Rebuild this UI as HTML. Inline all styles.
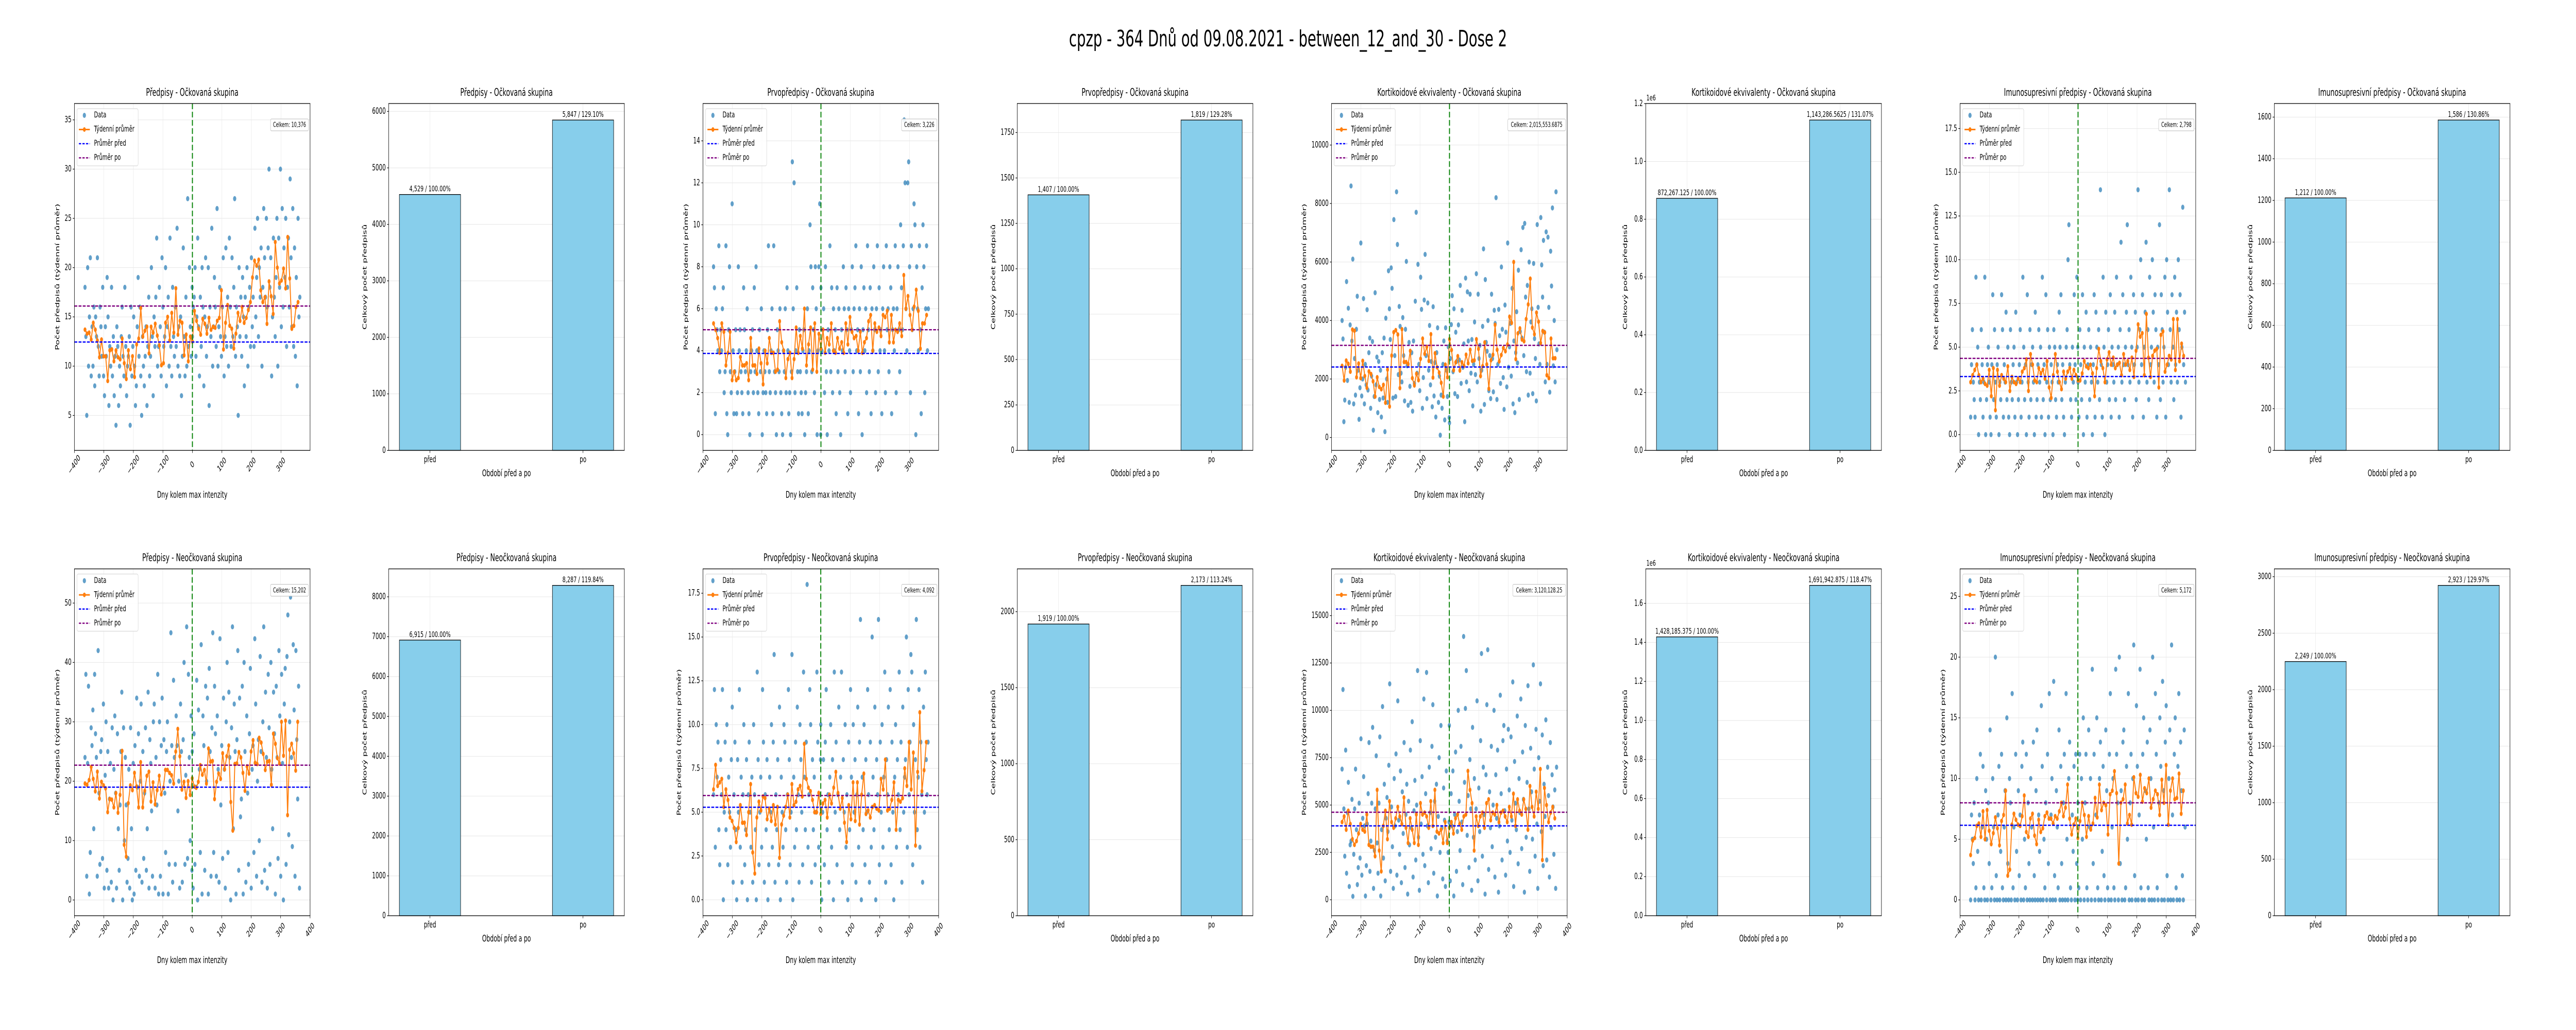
<!DOCTYPE html>
<html><head><meta charset="utf-8">
<style>
html,body{margin:0;padding:0;background:#fff;width:100%;height:100%;overflow:hidden;}
svg{display:block;width:100vw;height:100vh;font-family:"DejaVu Sans","Liberation Sans",sans-serif;}
</style></head>
<body>
<svg id="fig" viewBox="0 0 8000 2000" preserveAspectRatio="none" xmlns="http://www.w3.org/2000/svg">
<rect width="8000" height="2000" fill="#fff"/>
<text x="4000" y="90" font-size="44" text-anchor="middle" fill="#000">cpzp - 364 Dnů od 09.08.2021 - between_12_and_30 - Dose 2</text>
</svg>
<script>
// ---------- DATA ----------
const scatterTitles = ["Předpisy - Očkovaná skupina","Prvopředpisy - Očkovaná skupina","Kortikoidové ekvivalenty - Očkovaná skupina","Imunosupresivní předpisy - Očkovaná skupina","Předpisy - Neočkovaná skupina","Prvopředpisy - Neočkovaná skupina","Kortikoidové ekvivalenty - Neočkovaná skupina","Imunosupresivní předpisy - Neočkovaná skupina"];
const barTitles = scatterTitles;
const totals = ["Celkem: 10,376","Celkem: 3,226","Celkem: 2,015,553.6875","Celkem: 2,798","Celkem: 15,202","Celkem: 4,092","Celkem: 3,120,128.25","Celkem: 5,172"];
const meanBefore = [12.45, 3.87, 2410, 3.32, 19.0, 5.28, 3900, 6.15];
const meanAfter = [16.1, 5.0, 3150, 4.36, 22.7, 5.95, 4620, 8.0];
const barCategories = ["před","po"];
const barBefore = [4529, 1407, 872267.125, 1212, 6915, 1919, 1428185.375, 2249];
const barAfter = [5847, 1819, 1143286.5625, 1586, 8287, 2173, 1691942.875, 2923];
const barLabelBefore = ["4,529 / 100.00%","1,407 / 100.00%","872,267.125 / 100.00%","1,212 / 100.00%","6,915 / 100.00%","1,919 / 100.00%","1,428,185.375 / 100.00%","2,249 / 100.00%"];
const barLabelAfter = ["5,847 / 129.10%","1,819 / 129.28%","1,143,286.5625 / 131.07%","1,586 / 130.86%","8,287 / 119.84%","2,173 / 113.24%","1,691,942.875 / 118.47%","2,923 / 129.97%"];
const scatterYTicks = [[5,10,15,20,25,30,35],[0,2,4,6,8,10,12,14],[0,2000,4000,6000,8000,10000],[0,2.5,5,7.5,10,12.5,15,17.5],[0,10,20,30,40,50],[0,2.5,5,7.5,10,12.5,15,17.5],[0,2500,5000,7500,10000,12500,15000],[0,5,10,15,20,25]];
const barYTicks = [[0,1000,2000,3000,4000,5000,6000],[0,250,500,750,1000,1250,1500,1750],[0,200000,400000,600000,800000,1000000,1200000],[0,200,400,600,800,1000,1200,1400,1600],[0,1000,2000,3000,4000,5000,6000,7000,8000],[0,500,1000,1500,2000],[0,200000,400000,600000,800000,1000000,1200000,1400000,1600000],[0,500,1000,1500,2000,2500,3000]];
const xTicksA = [-400,-300,-200,-100,0,100,200,300];
const xTicksB = [-400,-300,-200,-100,0,100,200,300,400];

const d0b=[18,13,5,20,10,15,21,9,14,10,16,8,15,13,21,12,9,16,14,11,18,9,7,14,11,19,15,6,12,10,18,9,13,7,11,4,14,12,6,10,8,13,16,11,9,18,12,7,10,11,13,4,16,9,12,15,10,6,8,14,19,11,16,9,5,13,10,8,11,14,6,12,17,9,11,20,13,7,15,12,17,23,10,12,18,14,9,21,16,12,13,20,8,14,17,10,23,12,9,18,13,11,16,12,24,10,14,9,15,7,11,22,13,9,17,10,27,12,20,14,11,18];
const d0a=[13,16,17,20,11,15,23,14,9,17,12,20,16,8,15,21,11,14,20,6,16,13,24,10,14,19,16,12,26,10,14,18,13,11,16,21,9,13,22,12,17,10,23,16,12,21,13,18,27,11,16,14,5,20,13,17,11,19,15,8,17,13,20,10,16,18,12,21,14,17,12,24,15,19,25,13,20,17,22,10,18,26,21,17,25,16,22,30,18,21,9,15,23,17,13,19,25,10,23,18,30,14,26,16,22,19,25,12,18,23,16,29,21,14,26,12,22,11,19,8,25,15,17];
const d1b=[8,7,1,6,5,4,9,3,5,4,6,7,2,3,9,1,0,5,8,3,2,11,4,1,3,5,1,2,8,4,5,3,2,1,7,5,3,4,6,2,1,0,3,4,5,2,7,3,8,4,2,1,5,3,6,0,2,4,3,2,1,5,9,3,2,4,6,1,9,3,2,0,5,4,3,6,2,1,0,4,3,6,2,7,4,1,2,0,3,13,6,12,2,4,7,3,1,5,3,2,1,4,5,0,2,3,6,1,4,10,8,3,7,5,2,8,6,0,4,8,11,0];
const d1a=[7,4,5,6,2,8,3,0,5,4,9,3,7,2,6,4,5,1,7,3,6,2,0,5,4,8,6,3,7,5,1,6,4,2,5,8,3,6,7,9,4,5,1,6,3,8,0,5,7,4,6,2,9,5,3,7,1,6,4,8,5,2,6,9,3,7,4,5,1,6,8,4,2,9,5,6,3,8,7,1,5,6,4,9,2,6,8,5,3,10,7,5,9,15,12,6,4,12,13,8,2,9,5,6,11,10,0,8,6,4,9,5,1,7,10,8,2,6,9,4,6];
const d2b=[4000,3370,540,1280,2400,5330,1950,4420,1200,3850,8600,3300,6100,1150,2700,1450,3700,4830,2300,620,1700,6650,1420,2000,4750,1150,2500,1800,4370,1620,2900,3400,1000,2100,3280,250,1400,4950,1800,2750,850,2600,1300,2300,700,2900,1350,3400,200,4080,2000,1200,5700,4400,3350,5800,5100,1350,7450,2800,1400,8400,6600,2150,4480,3800,2200,1900,4100,2800,1250,3700,6020,2450,1100,3250,1750,1200,2900,900,3300,1850,4660,7700,2200,5920,2500,1600,5480,4380,1000,2050,4700,6260,2800,1330,4600,2300,3830,1800,2600,1050,4470,1420,2560,700,2900,3750,1200,2100,80,1450,1000,2500,3300,600,3750,2300,1400,3100,680];
const d2a=[500,2700,3860,4850,2250,4400,1500,3600,2600,1400,3850,2650,5200,1850,4350,2400,3200,540,5450,1900,4980,3300,1600,4900,2200,3350,1080,2500,3950,2150,5600,1900,4900,2700,3150,900,2300,3800,6450,1130,5400,3250,2950,4000,1600,2800,1330,4900,2700,1560,4350,3900,8200,1300,2500,4380,3480,1850,5830,3700,2050,960,4530,3600,1730,6650,2400,3100,3900,2100,5100,1150,3300,850,2900,4300,2550,5720,1300,3620,6420,3400,7180,2800,7320,4800,2250,5200,1450,6000,2200,3950,4400,1500,5950,3380,2700,1250,7280,4450,3200,2500,7520,5900,4800,6740,3600,1900,7030,2500,6850,4450,1550,6370,5180,7850,2450,4000,1900,8400,3000];
const d3b=[1,4,6,3,2,1,9,4,5,0,3,2,6,4,1,3,9,0,2,4,5,3,1,0,4,8,2,6,3,1,4,5,0,3,2,8,6,1,4,3,7,2,5,1,0,6,3,2,4,5,1,7,3,0,2,4,6,1,3,9,5,2,4,0,8,3,1,6,2,4,5,3,0,7,1,2,4,6,3,5,1,9,2,4,0,8,3,6,1,5,2,4,3,0,6,5,2,1,4,3,7,5,8,2,4,1,0,3,5,6,10,12,4,2,1,5,3,8,4,2,9,5];
const d3a=[3,1,6,4,2,8,0,5,3,7,1,4,6,2,5,3,0,4,8,1,7,5,3,6,2,14,4,1,9,5,0,7,3,4,6,2,8,1,5,4,3,7,2,9,4,5,1,6,11,3,8,4,2,5,7,12,4,6,3,9,5,1,8,4,7,2,5,14,3,6,10,4,8,1,5,7,11,3,6,2,9,4,5,10,7,3,8,6,1,5,4,12,2,8,6,3,5,9,1,10,7,4,14,6,3,8,5,2,9,4,7,3,10,6,8,1,5,13,4,7,3];
const d4b=[24,38,4,23,36,1,8,29,26,32,12,38,28,24,4,42,18,6,25,27,7,33,2,21,30,5,25,2,17,23,3,29,0,22,31,18,2,28,12,5,16,25,35,0,29,10,24,16,3,7,22,2,29,12,0,23,1,26,5,34,19,28,4,20,33,3,25,7,18,29,5,12,35,2,27,23,15,4,30,33,2,24,16,38,1,30,4,26,34,1,27,18,8,25,30,1,6,20,45,26,3,37,24,6,31,26,15,20,2,33,25,3,27,40,6,21,46,7,38,24,10,31,5];
const d4a=[25,2,28,6,19,37,0,32,22,8,43,1,31,26,5,36,20,34,1,39,25,4,29,45,8,36,28,4,31,22,3,44,16,26,7,34,22,2,30,40,8,35,24,0,29,46,12,33,25,1,27,42,5,34,14,17,36,1,40,25,3,31,18,6,28,39,2,22,26,8,44,33,4,20,27,10,41,25,3,30,46,5,35,24,2,38,29,6,40,22,12,35,28,1,36,24,7,42,31,4,38,23,0,33,39,6,41,48,11,30,51,24,9,43,32,4,42,27,17,36,2];
const d5b=[6,12,3,10,7,9,4,2,8,6,12,0,5,9,4,10,2,7,5,3,8,11,1,6,9,4,0,8,5,12,3,7,1,6,10,2,4,8,0,6,9,5,3,7,1,10,6,4,0,13,8,2,5,7,3,12,9,1,6,4,8,0,2,7,5,10,3,9,14,1,6,4,8,2,11,0,7,5,3,10,9,4,1,6,12,8,2,5,14,0,7,3,9,4,11,6,1,10,8,5,2,13,7,4,9,18,3,6,12,10,1,8,4,7,2,5,13,9,3,6,8];
const d5a=[10,0,5,8,2,9,12,4,6,1,7,10,3,8,0,13,5,9,2,6,11,4,7,13,1,8,5,10,3,6,0,9,4,12,7,2,10,5,8,1,6,11,3,9,16,0,7,4,10,2,8,5,12,6,1,9,3,15,7,4,11,0,8,6,16,2,9,5,10,3,7,13,1,8,6,11,4,12,2,9,5,0,7,10,3,8,6,13,4,9,1,11,5,7,8,15,3,12,6,9,14,13,2,10,5,8,16,4,7,12,3,9,6,1,11,5,13,8,6,9];
const d6b=[6900,11100,4800,2300,7900,1400,4600,6200,700,2900,3100,5300,180,2400,4800,6900,3700,800,1700,5100,2200,8500,1300,4300,6500,3900,200,1800,4000,5600,8300,1500,3100,5100,9100,600,2600,4800,7600,3000,1400,5100,8600,200,3700,10200,2200,6100,1000,4300,5400,3600,7100,11400,1500,4900,2800,600,6400,3900,7700,1300,10500,4200,2400,6800,900,5700,3500,8300,1700,4500,6100,300,5200,2900,7900,3800,9400,1200,4700,6300,2100,5000,12100,3300,500,8400,4000,6500,2400,10600,1800,5600,12000,3900,900,7000,4600,2700,8100,10300,1400,5200,3300,6100,200,4400,7500,2500,9200,3800,1100,5900,4200,700,6800,3100,2500,4100];
const d6a=[9200,1000,5600,3900,6800,200,4500,7800,1500,3600,10000,5200,2600,8100,4100,800,13900,6200,10100,12100,3400,5500,1700,7400,4800,500,9100,3300,6400,2100,4800,10500,1000,5900,3600,8400,13000,2300,7000,4500,300,6600,10300,13200,1600,5700,3800,8100,2800,5000,10000,1200,6600,4300,7900,400,3900,10800,5600,2100,8400,9200,4700,1300,6900,3100,9000,5800,2500,8600,4200,11500,700,7300,5100,3700,9700,1900,6400,4600,10600,2700,7800,5300,400,9200,3300,6200,11300,4800,1500,8000,5700,3200,12400,6900,2300,9000,4000,600,7500,5200,11400,3600,8700,1800,6100,4400,9500,2100,7000,5500,1200,8300,3800,6600,4900,2400,5800,600,7000];
const d7b=[0,7,5,3,8,0,1,10,4,0,7,12,0,6,11,1,0,9,5,0,8,3,14,0,1,10,6,0,20,2,0,7,11,0,4,12,1,0,6,9,0,15,3,0,10,8,0,17,1,6,0,12,4,0,9,2,7,0,11,13,0,5,1,12,0,8,3,0,10,6,0,13,2,0,9,14,0,7,4,0,16,11,0,5,1,8,0,12,3,17,0,7,10,0,18,2,0,9,6,1,14,0,11,3,0,8,12,0,17,5,0,10,13,1,0,7,4,11,0,12,3,0];
const d7a=[8,1,12,0,10,5,15,0,8,12,1,0,14,6,10,0,19,3,12,0,7,15,1,0,10,13,0,4,11,2,0,14,9,1,0,12,17,0,6,10,1,0,19,12,8,0,20,3,9,0,13,14,0,1,11,5,17,0,8,12,0,10,21,2,0,16,11,0,7,19,1,0,12,15,0,9,5,13,1,0,14,10,0,20,6,0,17,12,1,0,8,15,11,0,18,9,0,13,16,2,0,10,14,0,21,7,0,12,15,1,0,11,17,0,13,9,2,0,14,6];

const w0b=[13.7,13.3,13.4,12.7,14.4,13.7,12.6,10.9,12.7,11,11,8.5,11.6,11.7,10.5,11.6,10.9,10.7,12.8,10.3,8.7,11.6,9.7,11,8.9,12.2,12.8,15.9,13,13.6,14,11.3,14,13.4,14.3,13.1,12.1,10.1,10.3,14.4,15,12.6,15.4,13.4,17.9,13.2,14.6,14.4,11.1,13.2,10.5,13];
const w0a=[12.5,15.6,14.6,13.8,13.2,14.8,14.3,13.3,14.9,13.7,14,13.9,14.6,14.9,17.7,11.7,14.4,16.2,14.1,13.8,11.8,13.3,15.4,14.6,16,14.4,14.9,15.7,16.5,19,20.7,20.2,20.8,17.7,16.5,17,14.3,18.6,17.1,15.3,22.6,20,18.4,18.7,19.9,17.9,23.1,18.9,13.8,14.1,16,16.5];
const w1b=[5.3,5,4.6,3.9,5.3,4.9,3.3,3.9,4.9,2.6,3,2.6,2.7,3.7,3.3,3.3,3.4,2.6,4.6,3.3,3.3,2.9,4.1,3.4,2.4,4,3.4,4.6,3.9,3.9,3,3.1,5.4,4.4,4,2.7,3.6,3.9,2.7,3.6,5.1,3.9,4.7,4.1,6,3.3,4.3,5.1,3.1,5.3,3,4.8];
const w1a=[4.1,5,3.9,4.6,4.3,5.3,4,3.9,4.6,4.1,4.4,3.9,5.3,4.3,5.6,4.9,4.6,4.7,4,4.9,3.9,4.4,4.6,5.4,5.7,4,5.3,4.9,5.1,4.7,5.7,5.6,5.9,4.4,5.7,4.4,5,4.9,5.3,4.7,7.6,6,6.6,5.7,5,6.1,6.9,5.9,4.1,5.3,5.3,5.7];
const w2b=[2450,1950,2630,2520,2250,3690,3650,2060,2530,2030,2620,2100,1700,2260,2170,1920,1400,2060,1730,1650,1800,1190,2320,1060,2800,3600,3670,3520,1690,3700,2580,2580,2510,2960,2030,1780,2180,1960,2690,3380,2860,3100,2620,3530,2050,2880,2400,2220,1870,1400,2490,2060];
const w2a=[3360,2990,2300,2570,2780,2290,2570,2450,2830,2540,3000,2620,2640,3360,3030,2100,2440,3250,2500,1670,2640,2830,3850,3000,2600,2820,3060,2950,3180,4130,3920,6000,2680,3560,3730,3350,3290,4050,4550,5430,3760,3530,4270,3960,3230,3640,3590,2130,2030,3380,2710,2710];
const w3b=[3,3.4,3.7,4,3.4,3,3.2,2.9,2.8,3.7,2.2,3.8,1.4,3.7,2.8,3.4,3.2,3,3.9,2.5,3.3,3,2.9,3.2,3,3.6,3.8,4.3,2.5,4.6,4,3.1,3,3.8,3.5,3.7,3.2,4.2,2.7,2.1,3.4,4.6,3.6,3,2.6,3.6,3.2,3.6,3.8,3.2,3.7,3.4];
const w3a=[3.1,3.1,3.5,4.2,3.9,3.8,4,3.5,2.2,3.8,4.9,4.2,3.8,3,4.3,4.7,4,4.4,3.8,4,4.1,3.4,4.6,4,4.2,3.7,4.4,3.3,4.8,6.3,5.6,5.8,3.4,6.9,4.4,3.3,4.5,4.8,4.9,2.7,5.7,5.9,3.6,4,4.5,4.3,6.6,3.7,6.6,4.2,5.2,4.5];
const w4b=[19.6,19.4,20.2,22.4,20.4,18.3,21.6,17.1,19.9,19.3,18.8,14.8,17,16.9,15.6,18,14.7,17.7,25.1,9.3,7.3,16.3,19.3,18.5,21.4,19.1,15.6,23.2,15.6,18.4,20.9,21.6,16.6,19.8,16.1,18.5,20.9,17.8,18.9,21.9,21.9,21.4,21,19.6,25,28.8,24.2,18.6,19.9,17.2,20,17.7];
const w4a=[20.5,19.1,18.9,19.9,22.7,21.1,21.9,19.6,25.5,23.3,23.4,17,19.9,21.3,20.4,24.7,22,24.2,26,16.5,11.7,22.9,23,24.9,24,21.4,18.4,22.5,21.3,25,26.9,23.1,22.9,27.3,26.5,24.6,21.9,23.3,23.4,19.4,28,26.3,23.9,23,30,24.3,30.2,14.3,25.3,26.3,24.7,21.8,30];
const w5b=[6.3,7.7,6.5,6.7,6.9,5.3,6.3,5.7,4.7,4.5,4.1,3.3,4.1,5.4,4.4,4.4,3.7,5,6.6,2.7,1.5,4.7,5.6,5.1,5.9,5.8,4.6,5.2,4.5,5.4,4.3,5.3,2.4,4.3,4.8,5.3,6,4.7,6.6,5.4,5.6,6.3,6.5,5.9,8.9,6.9,6.4,6.2,5.7,5,5,6.1];
const w5a=[4.9,5.5,5.7,4.7,6,5.5,6.4,7.3,6.1,5.2,5.8,4.4,3.3,5.4,4.6,6.7,4.5,6.7,4.3,6,7.2,4.9,5.1,4.7,5.3,5.4,5.2,5.1,6.9,6.3,8,5.1,5.2,5.7,6.7,4,5.7,5.6,5.8,7.5,6.5,9,6.3,8.4,3.1,7.3,10.7,6.2,7.4,9];
const w6b=[4100,4400,3700,4700,4000,3200,2900,3100,3500,4000,3700,3600,4500,2900,2800,2800,2300,5800,2600,1500,3900,4700,3200,5200,4100,3800,4300,4900,4400,4000,5400,3800,3000,4300,3700,3000,4500,2900,5100,4500,4600,4400,3800,5200,3900,5800,3600,3500,3700,3000,4100,3000];
const w6a=[3800,4100,3500,4300,4500,4000,3700,4400,4500,6800,5800,5100,2600,4400,3900,4400,4600,3800,5100,5300,4200,4600,4500,5000,4100,4600,4700,4400,4100,4900,4400,5600,3900,5300,4700,4500,5300,4800,3700,6000,4900,4400,5700,4800,6900,2100,5900,5000,4100,4600,4900,4300];
const w7b=[3.7,4.9,5.1,6.1,6.3,5.2,7.3,5,7.4,5.7,4.6,5.5,6.8,5.9,4.5,6.5,7,9,2,2.5,6.2,7.1,6.6,6.2,6.1,6.9,8.6,5.6,5.2,6.7,7.1,5.3,4.6,6.6,5.6,5.9,6.9,7.2,6.7,6.7,6.3,6.9,6.7,7.3,8,6.9,7.6,9.5,6.7,5.4,6.2,6.7];
const w7a=[5.1,6.5,8,7,5.2,6.9,5.8,6.3,8.4,6.8,9.5,7.4,8,7.8,5.4,8.7,9,10.6,8.8,3,8,8.3,9.5,6.3,7,6.2,10.1,8.8,8.5,10.3,8.1,9.2,8.8,10,7.6,8.3,9,8.7,7,9.9,8,11.1,6.2,9,10,8.3,8.4,10.4,7.1,9];

const dailyBefore=[d0b,d1b,d2b,d3b,d4b,d5b,d6b,d7b];
const dailyAfter=[d0a,d1a,d2a,d3a,d4a,d5a,d6a,d7a];
const weeklyBefore=[w0b,w1b,w2b,w3b,w4b,w5b,w6b,w7b];
const weeklyAfter=[w0a,w1a,w2a,w3a,w4a,w5a,w6a,w7a];

// ---------- LAYOUT ----------
const NS="http://www.w3.org/2000/svg";
const svg=document.getElementById('fig');
const COL0=231, COLSTEP=976, PW=732, PH=673.5;
const ROWTOP=[201,1104.6];
const scatterY=[[1.45,36.66],[-0.75,15.78],[-440,11419],[-0.9,18.93],[-2.65,55.76],[-0.91,18.89],[-843,17470],[-1.3,27.27]];
const scatterXMax=[398.8,398.8,398.8,398.8,400,400,400,400];
const scatterFmt=['i','i','i','f1','i','f1','i','i'];
const barFmt=['i','i','e6','i','i','i','e6','i'];
const barYMaxFactor=1.05;

function mk(tag,attrs,parent){const e=document.createElementNS(NS,tag);for(const k in attrs)e.setAttribute(k,attrs[k]);(parent||svg).appendChild(e);return e;}
function fmtTick(v,f){if(f==='f1')return v.toFixed(1);if(f==='e6')return (v/1e6).toFixed(1);return String(v);}
function mnus(s){return s.replace('-','\u2212');}

function axesFrame(g,L,T,yTicks,sy,fmt){
  let maxW=0;
  yTicks.forEach(v=>{
    const y=sy(v);
    const gl=mk('line',{x1:L,x2:L+PW,y1:y,y2:y,stroke:'#e6e6e6','stroke-width':1},g);
    
    
    const tk=mk('line',{x1:L-5,x2:L,y1:y,y2:y,stroke:'#000','stroke-width':1.2},g);
    
    
    const s=fmtTick(v,fmt);
    maxW=Math.max(maxW,s.length*10.6);
    const t=mk('text',{x:L-9,y:y,'font-size':16.7,'text-anchor':'end','dominant-baseline':'central',fill:'#000'},g);
    t.textContent=s;
    
    
  });
  return maxW;
}

function scatterPanel(i){
  const r=Math.floor(i/4), c=(i%4)*2;
  const L=COL0+COLSTEP*c, T=ROWTOP[r];
  const g=mk('g',{});
  
  
  const [y0,y1]=scatterY[i]; const xMin=-400, xMax=scatterXMax[i];
  const sx=v=>L+(v-xMin)/(xMax-xMin)*PW;
  const sy=v=>T+PH-(v-y0)/(y1-y0)*PH;
  const xt=(xMax>=400?xTicksB:xTicksA);
  xt.forEach(v=>{
    const gl=mk('line',{x1:sx(v),x2:sx(v),y1:T,y2:T+PH,stroke:'#e6e6e6','stroke-width':1},g);
    
    
  });
  const maxW=axesFrame(g,L,T,scatterYTicks[i],sy,scatterFmt[i]);
  xt.forEach(v=>{
    const x=sx(v);
    const tk=mk('line',{x1:x,x2:x,y1:T+PH,y2:T+PH+5,stroke:'#000','stroke-width':1.2},g);
    
    
    const t=mk('text',{x:x,y:T+PH+28,'font-size':16.7,'text-anchor':'middle','dominant-baseline':'central',transform:`rotate(-45 ${x} ${T+PH+28})`,fill:'#000'},g);
    t.textContent=mnus(String(v));
    
    
  });
  const db=dailyBefore[i], da=dailyAfter[i];
  db.forEach((v,k)=>{
    const d=-364+k*(363/(db.length-1));
    const p=mk('circle',{cx:sx(d),cy:sy(v),r:5,fill:'#1f77b4','fill-opacity':0.7},g);
    
    
  });
  da.forEach((v,k)=>{
    const d=k*(364/(da.length-1));
    const p=mk('circle',{cx:sx(d),cy:sy(v),r:5,fill:'#1f77b4','fill-opacity':0.7},g);
    
    
  });
  const wb=weeklyBefore[i], wa=weeklyAfter[i]; const pts=[];
  wb.forEach((v,k)=>pts.push([sx(-364+k*(357/(wb.length-1))),sy(v)]));
  wa.forEach((v,k)=>pts.push([sx(k*(358/(wa.length-1))),sy(v)]));
  const pl=mk('polyline',{points:pts.map(p=>p[0].toFixed(1)+','+p[1].toFixed(1)).join(' '),fill:'none',stroke:'#ff7f0e','stroke-width':3,'stroke-linejoin':'round'},g);
  
  
  pts.forEach(p=>{
    const m=mk('circle',{cx:p[0],cy:p[1],r:4.5,fill:'#ff7f0e'},g);
    
    
  });
  const mb=mk('line',{x1:L,x2:L+PW,y1:sy(meanBefore[i]),y2:sy(meanBefore[i]),stroke:'blue','stroke-width':2.5,'stroke-dasharray':'9,4'},g);
  
  
  const ma=mk('line',{x1:L,x2:L+PW,y1:sy(meanAfter[i]),y2:sy(meanAfter[i]),stroke:'purple','stroke-width':2.5,'stroke-dasharray':'9,4'},g);
  
  
  const vl=mk('line',{x1:sx(0),x2:sx(0),y1:T,y2:T+PH,stroke:'green','stroke-width':3,'stroke-dasharray':'11,5'},g);
  
  
  const fr=mk('rect',{x:L,y:T,width:PW,height:PH,fill:'none',stroke:'#000','stroke-width':1.3},g);
  
  
  const lg=mk('g',{},g);
  
  
  const lb=mk('rect',{x:L+8,y:T+10,width:190,height:111,rx:4,fill:'#fff','fill-opacity':0.85,stroke:'#d0d0d0','stroke-width':1},lg);
  
  
  const items=['Data','Týdenní průměr','Průměr před','Průměr po'];
  items.forEach((s,k)=>{
    const yy=T+23+k*27.5;
    if(k===0){const e=mk('circle',{cx:L+31,cy:yy,r:5,fill:'#1f77b4','fill-opacity':0.7},lg);}
    if(k===1){const e=mk('line',{x1:L+14,x2:L+48,y1:yy,y2:yy,stroke:'#ff7f0e','stroke-width':3},lg);
      const e2=mk('circle',{cx:L+31,cy:yy,r:4.5,fill:'#ff7f0e'},lg);}
    if(k>=2){const e=mk('line',{x1:L+14,x2:L+48,y1:yy,y2:yy,stroke:k===2?'blue':'purple','stroke-width':2.5,'stroke-dasharray':'7,4'},lg);}
    const t=mk('text',{x:L+61,y:yy,'font-size':16,'dominant-baseline':'central',fill:'#000'},lg);
    t.textContent=s;
    
    
  });
  const tw=totals[i].length*7.7+10;
  const tb=mk('rect',{x:L+PW-5-tw,y:T+30,width:tw,height:23,rx:3,fill:'#fff','fill-opacity':0.9,stroke:'#bbb','stroke-width':1},g);
  
  
  const tt=mk('text',{x:L+PW-5-tw/2,y:T+41.5,'font-size':13,'text-anchor':'middle','dominant-baseline':'central',fill:'#000'},g);
  tt.textContent=totals[i];
  
  
  const ti=mk('text',{x:L+PW/2,y:T-15,'font-size':20,'text-anchor':'middle',fill:'#000'},g);
  ti.textContent=scatterTitles[i];
  
  
  const xl=mk('text',{x:L+PW/2,y:T+PH+92,'font-size':17.5,'text-anchor':'middle',fill:'#000'},g);
  xl.textContent='Dny kolem max intenzity';
  
  
  const yx=L-maxW-26, yc=T+PH/2;
  const yl=mk('text',{x:yx,y:yc,'font-size':17.5,'text-anchor':'middle',transform:`rotate(-90 ${yx} ${yc})`,fill:'#000'},g);
  yl.textContent='Počet předpisů (týdenní průměr)';
  
  
}

function barPanel(i){
  const r=Math.floor(i/4), c=(i%4)*2+1;
  const L=COL0+COLSTEP*c, T=ROWTOP[r];
  const g=mk('g',{});
  
  
  const vals=[barBefore[i],barAfter[i]];
  const labs=[barLabelBefore[i],barLabelAfter[i]];
  const yMax=Math.max(vals[0],vals[1])*barYMaxFactor;
  const sy=v=>T+PH-(v/yMax)*PH;
  const xMin=-0.27, xMax=1.27;
  const sx=v=>L+(v-xMin)/(xMax-xMin)*PW;
  barCategories.forEach((cat,k)=>{
    const gl=mk('line',{x1:sx(k),x2:sx(k),y1:T,y2:T+PH,stroke:'#e6e6e6','stroke-width':1},g);
    
    
  });
  const maxW=axesFrame(g,L,T,barYTicks[i],sy,barFmt[i]);
  barCategories.forEach((cat,k)=>{
    const x0=sx(k-0.2), x1=sx(k+0.2);
    const b=mk('rect',{x:x0,y:sy(vals[k]),width:x1-x0,height:T+PH-sy(vals[k]),fill:'#87ceeb',stroke:'#000','stroke-width':1.3},g);
    
    
    const bl=mk('text',{x:sx(k),y:sy(vals[k])-6,'font-size':15.5,'text-anchor':'middle',fill:'#000'},g);
    bl.textContent=labs[k];
    
    
    const tk=mk('line',{x1:sx(k),x2:sx(k),y1:T+PH,y2:T+PH+5,stroke:'#000','stroke-width':1.2},g);
    
    
    const tl=mk('text',{x:sx(k),y:T+PH+18,'font-size':16.7,'text-anchor':'middle','dominant-baseline':'central',fill:'#000'},g);
    tl.textContent=cat;
    
    
  });
  const fr=mk('rect',{x:L,y:T,width:PW,height:PH,fill:'none',stroke:'#000','stroke-width':1.3},g);
  
  
  if(barFmt[i]==='e6'){
    const ot=mk('text',{x:L+2,y:T-6,'font-size':15.5,fill:'#000'},g);
    ot.textContent='1e6';
    
    
  }
  const ti=mk('text',{x:L+PW/2,y:T-15,'font-size':20,'text-anchor':'middle',fill:'#000'},g);
  ti.textContent=barTitles[i];
  
  
  const xl=mk('text',{x:L+PW/2,y:T+PH+50,'font-size':17.5,'text-anchor':'middle',fill:'#000'},g);
  xl.textContent='Období před a po';
  
  
  const yx=L-maxW-26, yc=T+PH/2;
  const yl=mk('text',{x:yx,y:yc,'font-size':17.5,'text-anchor':'middle',transform:`rotate(-90 ${yx} ${yc})`,fill:'#000'},g);
  yl.textContent='Celkový počet předpisů';
  
  
}

for(let i=0;i<8;i++){scatterPanel(i);barPanel(i);}
</script>
</body></html>
